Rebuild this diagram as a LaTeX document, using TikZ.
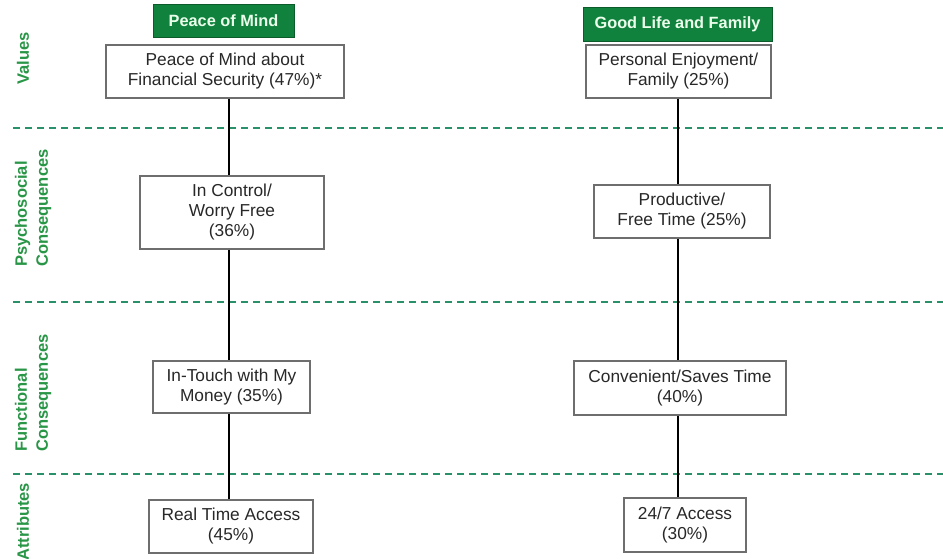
\documentclass[tikz,border=0pt]{standalone}
\usepackage{fontspec}
\setmainfont{Liberation Sans}
\definecolor{hdrgreen}{RGB}{16,130,62}
\definecolor{hdrtext}{RGB}{235,255,235}
\definecolor{lblgreen}{RGB}{40,150,70}
\definecolor{dashgreen}{RGB}{40,145,105}
\definecolor{boxgray}{RGB}{110,110,110}
\definecolor{txtgray}{RGB}{40,40,40}
\tikzset{
  boxnode/.style={draw=boxgray, line width=1.1pt, fill=white, align=center, inner sep=0pt,
    text=txtgray, font=\fontsize{17.3}{20}\selectfont},
  hdrnode/.style={draw=hdrgreen!70!black, line width=0.8pt, fill=hdrgreen, text=hdrtext,
    font=\fontsize{16.3}{19}\bfseries\selectfont, inner sep=0pt},
  rowlabel/.style={rotate=90, anchor=west, text=lblgreen, align=left, inner sep=0pt,
    font=\fontsize{16.5}{21}\bfseries\selectfont},
  sepline/.style={dashgreen, line width=1.5pt, dash pattern=on 7pt off 5pt},
  conn/.style={black, line width=2.2pt}
}
\begin{document}
\begin{tikzpicture}[x=1pt,y=-1pt]
\useasboundingbox (0,0) rectangle (943,559);
\fill[white] (0,0) rectangle (943,559);
% separators
\coordinate (s1a) at (13,128); \coordinate (s1b) at (943,128);
\coordinate (s2a) at (13,302); \coordinate (s2b) at (943,302);
\coordinate (s3a) at (13,474); \coordinate (s3b) at (943,474);
\draw[sepline] (s1a) -- (s1b);
\draw[sepline] (s2a) -- (s2b);
\draw[sepline] (s3a) -- (s3b);
% row labels
\node[rowlabel] (lv) at (23,85) {Values};
\node[rowlabel] (lp) at (33,267) {Psychosocial\\Consequences};
\node[rowlabel] (lf) at (33,452) {Functional\\Consequences};
\node[rowlabel] (la) at (23,561) {Attributes};
% headers
\node[hdrnode, minimum width=141pt, minimum height=33pt] (h1) at (223.5,20.5) {Peace of Mind};
\node[hdrnode, minimum width=189pt, minimum height=34pt] (h2) at (677.5,24) {Good Life and Family};
% left column
\node[boxnode, minimum width=238pt, minimum height=53pt] (v1) at (225,71.5) {Peace of Mind about\\Financial Security (47\%)*};
\node[boxnode, minimum width=184pt, minimum height=73pt] (p1) at (232,212.5) {In Control/\\Worry Free\\(36\%)};
\node[boxnode, minimum width=157pt, minimum height=52pt] (f1) at (231.5,387) {In-Touch with My\\Money (35\%)};
\node[boxnode, minimum width=164pt, minimum height=53pt] (a1) at (231,526.5) {Real Time Access\\(45\%)};
% right column
\node[boxnode, minimum width=185pt, minimum height=53pt] (v2) at (678.5,71.5) {Personal Enjoyment/\\Family (25\%)};
\node[boxnode, minimum width=176pt, minimum height=53pt] (p2) at (682,211.5) {Productive/\\Free Time (25\%)};
\node[boxnode, minimum width=212pt, minimum height=54pt] (f2) at (680,388) {Convenient/Saves Time\\(40\%)};
\node[boxnode, minimum width=122pt, minimum height=54pt] (a2) at (685,525) {24/7 Access\\(30\%)};
% connectors
\coordinate (xl) at (229,0);
\coordinate (xr) at (678,0);
\draw[conn] (v1.south -| xl) -- (p1.north -| xl);
\draw[conn] (p1.south -| xl) -- (f1.north -| xl);
\draw[conn] (f1.south -| xl) -- (a1.north -| xl);
\draw[conn] (v2.south -| xr) -- (p2.north -| xr);
\draw[conn] (p2.south -| xr) -- (f2.north -| xr);
\draw[conn] (f2.south -| xr) -- (a2.north -| xr);
\end{tikzpicture}
\end{document}
